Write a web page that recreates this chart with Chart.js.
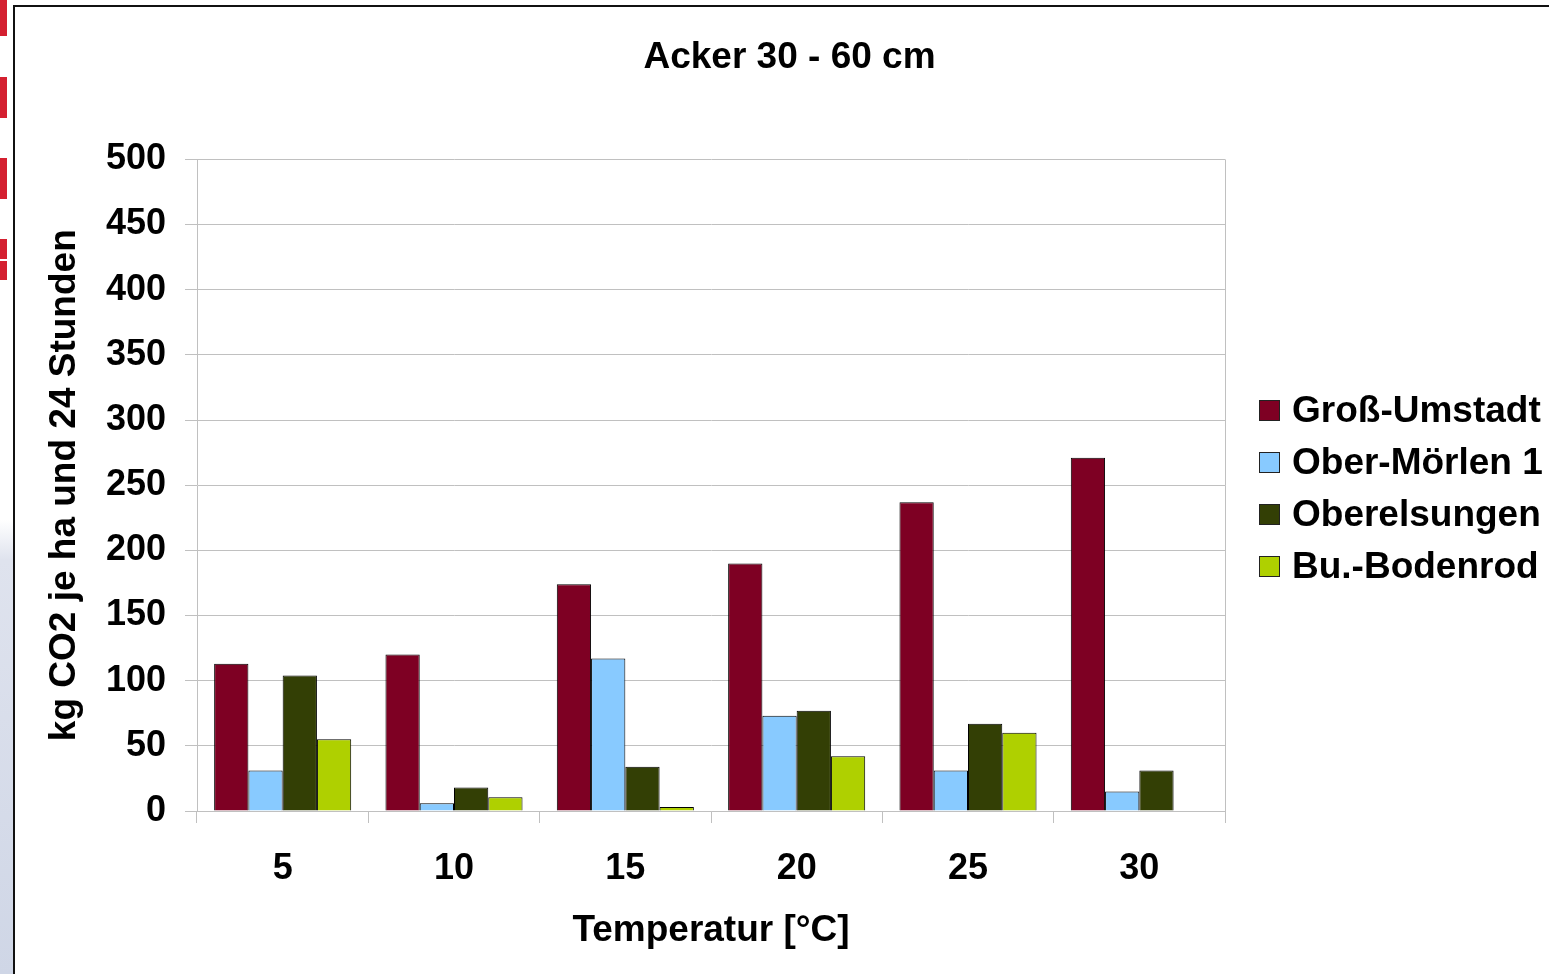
<!DOCTYPE html>
<html>
<head>
<meta charset="utf-8">
<script src="https://cdn.jsdelivr.net/npm/chart.js@4"></script>
<style>
    body { margin: 0; background: #fff; width: 1549px; height: 974px; overflow: hidden; position: relative; font-family: "Liberation Sans", Arial, sans-serif; }
    #strip { position: absolute; left: 0; top: 0; width: 13px; height: 974px;
        background: linear-gradient(to bottom, #ffffff 0, #ffffff 520px, #dfe3ee 560px, #cfd6e6 100%); }
    .red { position: absolute; left: 0; width: 7px; background: #d42030; }
    #vline { position: absolute; left: 13px; top: 5px; width: 2px; height: 969px; background: #111; }
    #hline { position: absolute; left: 13px; top: 5px; width: 1536px; height: 2px; background: #111; }
    #chart { position: absolute; left: 0; top: 0; }
    #legend { position: absolute; left: 1259px; top: 384px; }
    .item { height: 52px; display: flex; align-items: center; font-weight: bold; font-size: 37px; color: #000; white-space: nowrap; }
    .box { width: 19px; height: 19px; border: 1px solid #222; margin-right: 12px; }
</style>
</head>
<body>
<div id="strip"></div>
<div class="red" style="top:0;height:36px"></div>
<div class="red" style="top:77px;height:41px"></div>
<div class="red" style="top:158px;height:41px"></div>
<div class="red" style="top:239px;height:20px"></div>
<div class="red" style="top:261px;height:19px"></div>
<div id="vline"></div>
<div id="hline"></div>
<canvas id="chart" width="1549" height="974"></canvas>
<div id="legend"></div>
<script>
// Data
const temperatures = ['5', '10', '15', '20', '25', '30'];
const seriesNames = ['Groß-Umstadt', 'Ober-Mörlen 1', 'Oberelsungen', 'Bu.-Bodenrod'];
const grossUmstadt = [113, 120, 174, 190, 237, 271];
const oberMoerlen = [31, 6, 117, 73, 31, 15];
const oberelsungen = [104, 18, 34, 77, 67, 31];
const buBodenrod = [55, 10.5, 3, 42, 60, 0];
const seriesColors = ['#7e0023', '#88caff', '#333f05', '#afd000'];

const values = [grossUmstadt, oberMoerlen, oberelsungen, buBodenrod];

// Legend drawn as html at the right side
const legend = document.getElementById('legend');
seriesNames.forEach(function (name, i) {
    const item = document.createElement('div');
    item.className = 'item';
    item.innerHTML = '<span class="box" style="background:' + seriesColors[i] + '"></span>' + name;
    legend.appendChild(item);
});

// right border of the plot area
const plotFrame = {
    id: 'plotFrame',
    afterDraw(chart) {
        const { ctx, chartArea } = chart;
        ctx.save();
        ctx.strokeStyle = '#c0c0c0';
        ctx.lineWidth = 1;
        ctx.beginPath();
        ctx.moveTo(chartArea.right + 0.5, chartArea.top);
        ctx.lineTo(chartArea.right + 0.5, chartArea.bottom);
        ctx.stroke();
        ctx.restore();
    }
};

const font = { family: '"Liberation Sans", Arial, sans-serif', weight: 'bold', size: 36 };

new Chart(document.getElementById('chart'), {
    type: 'bar',
    data: {
        labels: temperatures,
        datasets: values.map(function (v, i) {
            return {
                label: seriesNames[i],
                data: v,
                backgroundColor: seriesColors[i],
                borderColor: '#000',
                borderWidth: 1,
                borderSkipped: 'start',
                categoryPercentage: 0.8,
                barPercentage: 1.0
            };
        })
    },
    plugins: [plotFrame],
    options: {
        responsive: false,
        animation: false,
        layout: { padding: { left: 30, right: 0, top: 6, bottom: 0 } },
        plugins: {
            legend: { display: false },
            tooltip: { enabled: false },
            title: {
                display: true,
                text: 'Acker 30 - 60 cm',
                color: '#000',
                font: { family: font.family, weight: 'bold', size: 37 },
                padding: { top: 30, bottom: 79 }
            }
        },
        scales: {
            x: {
                grid: { display: true, drawOnChartArea: false, drawTicks: true, tickLength: 12, color: '#c0c0c0', offset: true },
                border: { display: true, color: '#c0c0c0' },
                ticks: { color: '#000', font: font, padding: 24 },
                title: { display: true, text: 'Temperatur [°C]', color: '#000', font: { family: font.family, weight: 'bold', size: 37 }, padding: { top: 0, bottom: 21 } },
                afterFit(scale) { scale.height = 163; }
            },
            y: {
                min: 0,
                max: 500,
                ticks: { stepSize: 50, color: '#000', font: font, padding: 19 },
                grid: { color: '#c0c0c0', tickLength: 12 },
                border: { display: true, color: '#c0c0c0' },
                title: { display: true, text: 'kg CO2 je ha und 24 Stunden', color: '#000', font: { family: font.family, weight: 'bold', size: 37 }, padding: { top: 13, bottom: 0 } },
                afterFit(scale) { scale.width = 167; }
            },
            // empty space on the right, where the legend sits
            legendSpace: {
                type: 'linear',
                position: 'right',
                display: true,
                grid: { display: false },
                border: { display: false },
                ticks: { display: false },
                afterFit(scale) { scale.width = 324; }
            }
        }
    }
});
</script>
</body>
</html>
